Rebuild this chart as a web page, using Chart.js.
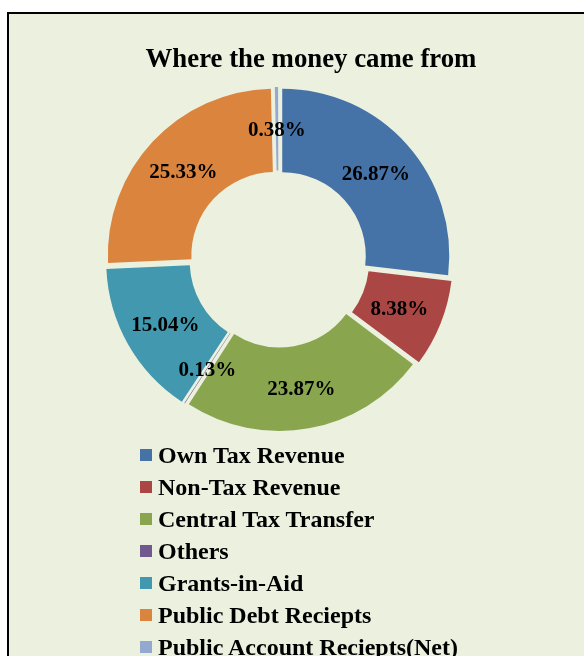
<!DOCTYPE html>
<html>
<head>
<meta charset="utf-8">
<title>Where the money came from</title>
<script src="https://cdn.jsdelivr.net/npm/chart.js@4.4.1/dist/chart.umd.min.js"></script>
<style>
  html, body { margin: 0; padding: 0; background: #fff; overflow: hidden; }
  #wrap { position: relative; width: 584px; height: 656px; }
  #receipts { position: absolute; left: 0; top: 0; }
  #legend {
    position: absolute; left: 140px; top: 439px; margin: 0; padding: 0; list-style: none;
    font: bold 24px "Liberation Serif", "Times New Roman", serif; color: #000;
  }
  #legend li { display: flex; align-items: center; height: 32px; white-space: nowrap; }
  #legend .box { width: 12px; height: 12px; margin-right: 6px; flex: none; }
</style>
</head>
<body>
<div id="wrap">
  <canvas id="receipts" width="584" height="656"></canvas>
  <ul id="legend"></ul>
</div>
<script>
var sources = ['Own Tax Revenue', 'Non-Tax Revenue', 'Central Tax Transfer', 'Others',
               'Grants-in-Aid', 'Public Debt Reciepts', 'Public Account Reciepts(Net)'];
var shares = [26.87, 8.38, 23.87, 0.13, 15.04, 25.33, 0.38];
var colours = ['#4572A7', '#AA4643', '#89A54E', '#71588F', '#4198AF', '#DB843D', '#93A9CF'];

var serif = '"Liberation Serif", "Times New Roman", serif';
var panel = '#EBF0DF';
var pull = 20; // chart.js shifts a segment by offset / 4

// white page, framed panel and heading
var framePlugin = {
    id: 'frame',
    beforeDraw: function(chart) {
        var ctx = chart.ctx;
        ctx.save();
        ctx.fillStyle = '#fff';
        ctx.fillRect(0, 0, chart.width, chart.height);
        ctx.fillStyle = panel;
        ctx.fillRect(8, 13, chart.width, chart.height);
        ctx.strokeStyle = '#000';
        ctx.lineWidth = 2;
        ctx.strokeRect(8, 13, chart.width + 10, chart.height + 10);
        ctx.fillStyle = '#000';
        ctx.font = 'bold 26.8px ' + serif;
        ctx.textAlign = 'center';
        ctx.textBaseline = 'alphabetic';
        ctx.fillText('Where the money came from', 311, 67);
        ctx.restore();
    }
};

// percentage written in the middle of each ring segment
var percentPlugin = {
    id: 'percentLabels',
    afterDatasetsDraw: function(chart) {
        var ctx = chart.ctx;
        var arcs = chart.getDatasetMeta(0).data;
        ctx.save();
        ctx.fillStyle = '#000';
        ctx.font = 'bold 21px ' + serif;
        ctx.textAlign = 'center';
        ctx.textBaseline = 'middle';
        arcs.forEach(function(arc, i) {
            var a = arc.getProps(['x', 'y', 'startAngle', 'endAngle', 'innerRadius', 'outerRadius']);
            var mid = (a.startAngle + a.endAngle) / 2;
            var r = (a.innerRadius + a.outerRadius) / 2 + pull / 4;
            ctx.fillText(shares[i].toFixed(2) + '%', a.x + Math.cos(mid) * r, a.y + Math.sin(mid) * r + 2);
        });
        ctx.restore();
    }
};

var ctx = document.getElementById('receipts').getContext('2d');

var chart = new Chart(ctx, {
    type: 'doughnut',
    data: {
        labels: sources,
        datasets: [{
            data: shares,
            backgroundColor: colours,
            borderWidth: 0,
            // thin slivers also grow in radius with offset, so pull them less
            offset: shares.map(function(v) { return v < 1 ? 10 : pull; })
        }]
    },
    options: {
        responsive: false,
        animation: false,
        radius: 167,
        cutout: '50%',
        layout: {
            padding: { left: 100, right: 127, top: 80, bottom: 218 }
        },
        plugins: {
            legend: { display: false },
            title: { display: false },
            tooltip: { enabled: false }
        }
    },
    plugins: [framePlugin, percentPlugin]
});

// legend list under the ring, one entry per line
var list = document.getElementById('legend');
chart.data.labels.forEach(function(name, i) {
    var li = document.createElement('li');
    var box = document.createElement('span');
    box.className = 'box';
    box.style.background = colours[i];
    li.appendChild(box);
    li.appendChild(document.createTextNode(name));
    list.appendChild(li);
});
</script>
</body>
</html>
